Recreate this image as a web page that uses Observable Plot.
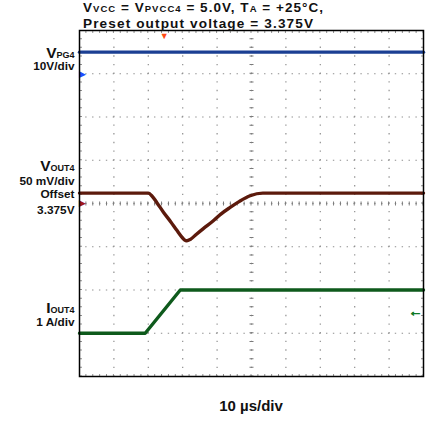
<!DOCTYPE html>
<html><head><meta charset="utf-8">
<script src="https://cdn.jsdelivr.net/npm/d3@7"></script>
<script src="https://cdn.jsdelivr.net/npm/@observablehq/plot@0.6"></script>
<style>
body{margin:0;background:#fff;}
#chart{width:433px;height:423px;position:relative;}
#chart svg{font-family:"Liberation Sans",Arial,Helvetica,sans-serif;overflow:visible;}
</style></head><body><div id="chart"></div>
<script>
// ---- scope settings ----
const timeDomain = [0, 100];          // µs, 10 µs/div
const divDomain = [-4, 4];            // vertical divisions, 0 = screen center
const gridTimes = [10, 20, 30, 40, 60, 70, 80, 90];
const gridDivs = [-3, -2, -1, 1, 2, 3];
const triggerTime = 24.6;             // µs (trigger position marker)

// channel: VPG4, 10 V/div, ground at +3 div
const pgScale = 10, pgGround = 3;
const pgTime = [0, 100];
const pgVolts = [5, 5];

// channel: VOUT4, 50 mV/div, offset 3.375 V at 0 div (values = mV from offset)
const outScale = 50, outGround = 0;
const outTime = [0, 20, 21, 22.5, 24.4, 26.5, 28.3, 29.7, 30.5, 31.2, 32.2, 34, 36, 38.9, 41, 43.8, 46.5, 49.6, 53.3, 100];
const outMv   = [12, 12, 9, 1, -10, -21, -31, -38.5, -42, -43, -41.5, -35.5, -29, -20, -12.5, -4.5, 2.5, 9, 12, 12];

// channel: IOUT4, 1 A/div, ground at -4 div
const ioScale = 1, ioGround = -4;
const ioTime = [0, 19.1, 29.3, 100];
const ioAmps = [1, 1, 2, 2];
const ioTrigLevel = 1.5; // A (trigger level arrow)

// ---- build tables ----
const toDiv = (v, s, g) => g + v / s;
const pgData = pgTime.map((t, i) => ({t, d: toDiv(pgVolts[i], pgScale, pgGround)}));
const outData = outTime.map((t, i) => ({t, d: toDiv(outMv[i], outScale, outGround)}));
const ioData = ioTime.map((t, i) => ({t, d: toDiv(ioAmps[i], ioScale, ioGround)}));

const W = 433, H = 423;
const mL = 79, mR = 10, mT = 30, mB = 47;
const gridColor = "#8f8f8f";

const plot = Plot.plot({
  width: W, height: H,
  marginLeft: mL, marginRight: mR, marginTop: mT, marginBottom: mB,
  x: {domain: timeDomain, axis: null},
  y: {domain: divDomain, axis: null},
  style: {background: "#fff", overflow: "visible"},
  marks: [
    // dotted grid
    Plot.ruleY(gridDivs, {stroke: gridColor, strokeWidth: 1.2, strokeDasharray: "1.4,5.48", strokeDashoffset: 0.7}),
    Plot.ruleX(gridTimes, {stroke: gridColor, strokeWidth: 1.2, strokeDasharray: "1.4,7.25", strokeDashoffset: 0.7}),
    // center graticule with minor ticks
    Plot.ruleY([0], {stroke: gridColor, strokeWidth: 1.2, strokeDasharray: "1.4,5.48", strokeDashoffset: 0.7}),
    Plot.ruleY([0], {stroke: "#7a7a7a", strokeWidth: 4, strokeDasharray: "1,5.88", strokeDashoffset: 0.5}),
    Plot.ruleX([50], {stroke: gridColor, strokeWidth: 1.2, strokeDasharray: "1.4,7.25", strokeDashoffset: 0.7}),
    Plot.ruleX([50], {stroke: "#7a7a7a", strokeWidth: 4, strokeDasharray: "1,7.65", strokeDashoffset: 0.5}),
    // inner edge ticks
    Plot.ruleY([-4], {dy: -1.5, stroke: gridColor, strokeWidth: 2, strokeDasharray: "1,5.88", strokeDashoffset: 0.5}),
    Plot.ruleY([4], {dy: 1.5, stroke: gridColor, strokeWidth: 2, strokeDasharray: "1,5.88", strokeDashoffset: 0.5}),
    Plot.ruleX([0], {dx: 1.5, stroke: gridColor, strokeWidth: 2, strokeDasharray: "1,7.65", strokeDashoffset: 0.5}),
    Plot.ruleX([100], {dx: -1.5, stroke: gridColor, strokeWidth: 2, strokeDasharray: "1,7.65", strokeDashoffset: 0.5}),
    // traces
    Plot.line(pgData, {x: "t", y: "d", stroke: "#1b3f93", strokeWidth: 3.4}),
    Plot.line(outData, {x: "t", y: "d", stroke: "#5c1a0c", strokeWidth: 3.4, curve: "monotone-x"}),
    Plot.line(ioData, {x: "t", y: "d", stroke: "#0e5a1c", strokeWidth: 3.4}),
    // ground markers
    Plot.text([pgGround], {x: () => timeDomain[0], y: d => d, text: () => "▶", fill: "#1f4cff", fontSize: 9, textAnchor: "start", dx: -1}),
    Plot.text([outGround], {x: () => timeDomain[0], y: d => d, text: () => "▶", fill: "#a0161a", fontSize: 9, textAnchor: "start", dx: -1}),
    // trigger position marker
    Plot.text([triggerTime], {x: d => d, frameAnchor: "top", text: () => "▼", fill: "#ff4a12", fontSize: 9, dy: 2}),
    // trigger level arrow
    Plot.text([toDiv(ioTrigLevel, ioScale, ioGround)], {x: () => timeDomain[1], y: d => d, text: () => "←", fill: "#0e7a24", stroke: "#0e7a24", strokeWidth: 0.8, fontSize: 14, fontWeight: "bold", textAnchor: "end", dx: -1}),
    Plot.frame({stroke: "#000", strokeWidth: 1.5})
  ]
});
document.getElementById("chart").appendChild(plot);

// ---- labels with subscripts ----
const xs = d3.scaleLinear(timeDomain, [mL, W - mR]);
const ys = d3.scaleLinear(divDomain, [H - mB, mT]);
const svg = d3.select(plot);
const g = svg.append("g").attr("font-weight", "bold").attr("fill", "#111");

function label(parts, x, y, anchor, size, len) {
  const t = g.append("text").attr("x", x).attr("y", y).attr("text-anchor", anchor).attr("font-size", size);
  if (len) t.attr("textLength", len).attr("lengthAdjust", "spacing");
  parts.forEach(p => {
    const ts = t.append("tspan").text(p.t);
    if (p.sz) ts.attr("font-size", p.sz);
  });
  return t;
}
const lx = xs(timeDomain[0]) - 4.5;
// channel labels (baseline positions in divisions)
label([{t: "V"}, {t: "PG4", sz: 9}], lx, ys(3.36), "end", 15.5);
label([{t: "10V/div"}], lx, ys(3.07), "end", 11.8);
label([{t: "V"}, {t: "OUT4", sz: 9}], lx, ys(0.75), "end", 15.5);
label([{t: "50 mV/div"}], lx, ys(0.42), "end", 11.8);
label([{t: "Offset"}], lx, ys(0.11), "end", 11.8);
label([{t: "3.375V"}], lx, ys(-0.25), "end", 11.8);
label([{t: "I"}, {t: "OUT4", sz: 9}], lx, ys(-2.54), "end", 15.5);
label([{t: "1 A/div"}], lx, ys(-2.85), "end", 11.8);

// time base label
label([{t: "10 µs/div"}], xs(50), H - mB + 35, "middle", 15);

// title
const tx = xs(0) + 4;
label([
  {t: "V"}, {t: "VCC", sz: 9.5}, {t: " = V"},
  {t: "PVCC4", sz: 9.5}, {t: " = 5.0V, T"},
  {t: "A", sz: 9.5}, {t: " = +25°C,"}
], tx, 12.3, "start", 13.5, 240);
label([{t: "Preset output voltage = 3.375V"}], tx, 27.6, "start", 13.6, 230);
</script></body></html>
